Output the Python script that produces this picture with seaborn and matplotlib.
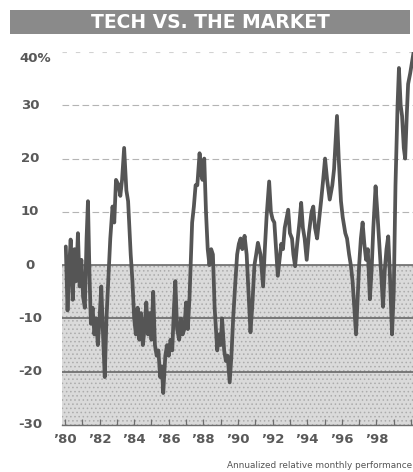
import matplotlib
matplotlib.use("Agg")
import matplotlib.pyplot as plt
from matplotlib.patches import Rectangle
import pandas as pd
import seaborn as sns

# Annualized relative monthly performance of tech stocks vs. the market (%)
years = [
    1980.05, 1980.15, 1980.25, 1980.33, 1980.45, 1980.55, 1980.65, 1980.75, 1980.85, 1980.95,
    1981.05, 1981.15, 1981.25, 1981.33, 1981.42, 1981.50, 1981.60, 1981.70, 1981.80, 1981.90,
    1982.00, 1982.10, 1982.20, 1982.30, 1982.40, 1982.50, 1982.62, 1982.75, 1982.85, 1982.95,
    1983.10, 1983.20, 1983.30, 1983.42, 1983.55, 1983.65, 1983.80, 1983.90, 1984.00, 1984.10,
    1984.20, 1984.30, 1984.40, 1984.50, 1984.60, 1984.70, 1984.80, 1984.90, 1985.00, 1985.10,
    1985.20, 1985.30, 1985.40, 1985.50, 1985.60, 1985.68, 1985.80, 1985.90, 1986.00, 1986.10,
    1986.20, 1986.30, 1986.38, 1986.48, 1986.60, 1986.70, 1986.80, 1986.90, 1987.00, 1987.10,
    1987.20, 1987.35, 1987.45, 1987.55, 1987.65, 1987.78, 1987.88, 1987.95, 1988.05, 1988.15,
    1988.25, 1988.35, 1988.45, 1988.55, 1988.65, 1988.80, 1988.90, 1989.00, 1989.08, 1989.20,
    1989.30, 1989.40, 1989.52, 1989.62, 1989.72, 1989.85, 1989.95, 1990.05, 1990.15, 1990.25,
    1990.38, 1990.50, 1990.62, 1990.72, 1990.82, 1990.95, 1991.05, 1991.15, 1991.30, 1991.45,
    1991.55, 1991.65, 1991.80, 1991.90, 1992.00, 1992.10, 1992.20, 1992.30, 1992.40, 1992.50,
    1992.60, 1992.70, 1992.90, 1993.00, 1993.12, 1993.20, 1993.30, 1993.42, 1993.55, 1993.65,
    1993.75, 1993.85, 1993.97, 1994.10, 1994.25, 1994.35, 1994.45, 1994.57, 1994.70, 1994.80,
    1994.92, 1995.03, 1995.15, 1995.30, 1995.45, 1995.55, 1995.65, 1995.72, 1995.82, 1995.95,
    1996.05, 1996.20, 1996.30, 1996.42, 1996.52, 1996.62, 1996.72, 1996.82, 1996.92, 1997.00,
    1997.10, 1997.20, 1997.30, 1997.40, 1997.50, 1997.62, 1997.72, 1997.82, 1997.95, 1998.05,
    1998.15, 1998.28, 1998.38, 1998.48, 1998.58, 1998.68, 1998.78, 1998.90, 1999.00, 1999.10,
    1999.22, 1999.30, 1999.40, 1999.48, 1999.58, 1999.66, 1999.75, 1999.83, 1999.95, 2000.05,
    2000.20,
]
performance = [
    3.5, -8.5, 0, 4.8, -6.5, 3, -3, 6, -4, 1,
    -6, -8, 5, 12, -2, -11, -8, -13, -10, -15,
    -10, -4, -13, -21, -10, -3, 5, 11, 8, 16,
    15, 13, 16, 22, 14, 12, 2, -3, -10, -13,
    -8, -14, -9, -15, -12, -7, -13, -9, -14, -5,
    -15, -17, -16, -21, -19, -24, -17, -15, -17, -14,
    -16, -8, -3, -12, -14, -10, -13, -12, -7, -12,
    -6, 8, 11, 15, 15, 21, 17, 16, 20, 10,
    3, 0, 3, 2, -8, -16, -13, -15, -10, -16,
    -18, -17, -22, -17, -10, -3, 2, 4, 5, 3,
    5.5, 2, -6, -12.6, -8, 0, 2, 4.2, 2, -4,
    3, 9, 15.7, 10, 8.6, 8, 3, -2, 1, 4,
    3, 7, 10.4, 6, 5, 2, -0.2, 4, 8, 11.7,
    7, 5, 1, 6, 10, 11, 7, 5, 9, 12,
    16, 20, 16, 12.3, 15, 18, 24, 28, 20, 12,
    9, 6, 5, 2, 0, -3, -8, -13, -6, 0,
    5, 8, 4, 1, 3, -6.4, -1, 7, 14.8, 10,
    4.8, -2, -7.8, -1, 3, 5.4, -2, -13, -5, 15,
    30, 37, 30, 28, 22, 20, 28, 34, 36, 38,
    41,
]

tick_years = [1980, 1982, 1984, 1986, 1988, 1990, 1992, 1994, 1996, 1998]
tick_labels = ["\u201980", "\u201982", "\u201984", "\u201986", "\u201988",
               "\u201990", "\u201992", "\u201994", "\u201996", "\u201998"]
y_values = [40, 30, 20, 10, 0, -10, -20, -30]
y_labels = ["40%", "30", "20", "10", "0", "-10", "-20", "-30"]

title = "TECH VS. THE MARKET"
caption = "Annualized relative monthly performance"

sns.set_theme(style="white")
plt.rcParams["font.family"] = ["DejaVu Sans"]
plt.rcParams["hatch.linewidth"] = 0.6

W, H = 414, 472
fig = plt.figure(figsize=(W / 100, H / 100), dpi=100)
fig.patch.set_facecolor("white")

# plot area: left edge at x=62 px, runs to the right edge; y from 52 px (40%) to 425 px (-30)
ax = fig.add_axes([62 / W, 1 - 425 / H, (W - 62) / W, (425 - 52) / H])
ax.set_facecolor("white")
ax.set_xlim(1979.83, 2000.17)
ax.set_ylim(-30, 40)

# stippled band for negative territory
ax.axhspan(-30, 0, facecolor="#dadada", edgecolor="#ababab", hatch="....",
           linewidth=0, zorder=0)

# reference lines
for v in [0, -10, -20]:
    ax.axhline(v, color="#5e5e5e", lw=1.1, zorder=1)
for v in [10, 20, 30]:
    ax.axhline(v, color="#b4b4b4", lw=0.8, ls=(0, (6, 3)), zorder=1)
ax.axhline(40, color="#d2d2d2", lw=0.8, ls=(0, (4, 8)), zorder=1)

df = pd.DataFrame({"year": years, "performance": performance})
sns.lineplot(data=df, x="year", y="performance", ax=ax, color="#555555",
             linewidth=2.7, zorder=3, legend=False)

for side in ["top", "right", "left"]:
    ax.spines[side].set_visible(False)
ax.spines["bottom"].set_color("#6e6e6e")
ax.spines["bottom"].set_linewidth(1.0)

ax.set_xticks(tick_years)
ax.set_xticklabels(tick_labels, fontsize=9.5, fontweight="bold", color="#595959")
ax.set_xticks(list(range(1980, 2001)), minor=True)
ax.tick_params(axis="x", which="both", direction="in", length=4, width=0.9,
               color="#6e6e6e", bottom=True, pad=6)
ax.set_yticks([])
ax.set_xlabel("")
ax.set_ylabel("")
ax.grid(False)

# value labels down the left side
ytrans = ax.get_yaxis_transform()
for v, lab in zip(y_values, y_labels):
    if lab.endswith("%"):
        ax.text((19 - 62) / (W - 62), v - 1.2, lab, transform=ytrans, ha="left",
                va="center", fontsize=9.5, fontweight="bold", color="#595959",
                clip_on=False)
    else:
        ax.text((30 - 62) / (W - 62), v, lab, transform=ytrans, ha="center",
                va="center", fontsize=9.5, fontweight="bold", color="#595959",
                clip_on=False)

# title banner
fig.patches.append(Rectangle((10 / W, 1 - 34 / H), 400 / W, 24 / H,
                             transform=fig.transFigure, facecolor="#8a8a8a",
                             edgecolor="none", zorder=0))
fig.text(210 / W, 1 - 22 / H, title, ha="center", va="center", fontsize=13.5,
         fontweight="bold", color="white")

fig.text(412 / W, 1 - 465 / H, caption, ha="right", va="center", fontsize=6.4,
         color="#555555")

fig.savefig("out.png", dpi=100)
